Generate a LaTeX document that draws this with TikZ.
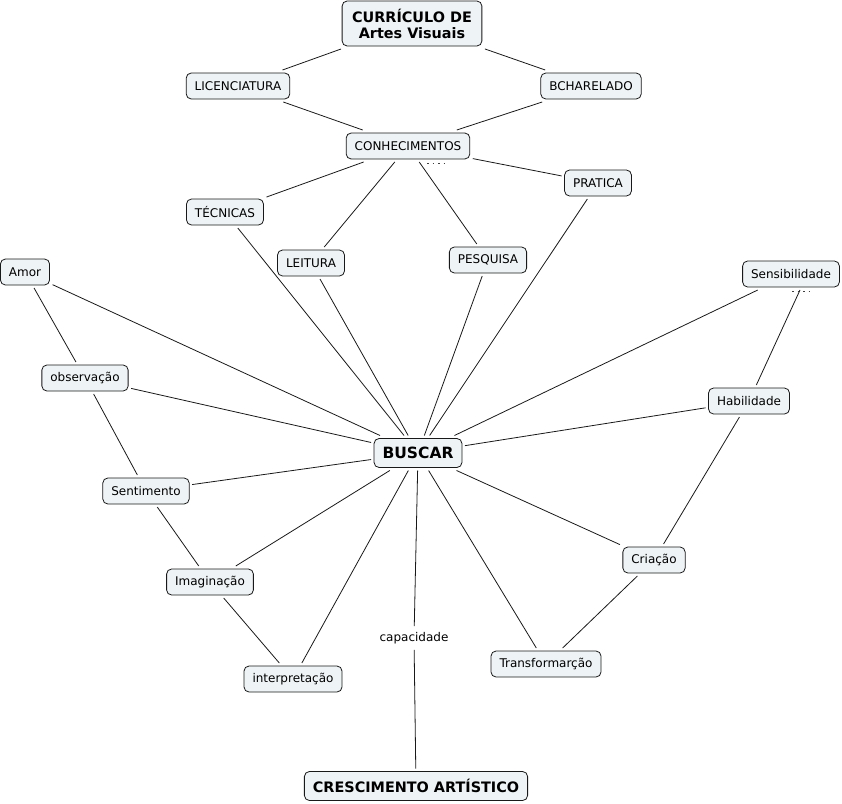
\documentclass[tikz,border=0pt]{standalone}
\usepackage{fontspec}
\setmainfont{DejaVu Sans}
\usetikzlibrary{positioning,shapes}
\definecolor{fundo}{RGB}{238,243,245}

\begin{document}
\begin{tikzpicture}[x=1pt,y=-1pt,
    conceito/.style={draw=black!90,fill=fundo,rounded corners=5pt,line width=0.8pt,
      minimum height=26pt,inner xsep=8.5pt,font=\fontsize{12}{14}\selectfont,outer sep=3pt},
    titulo/.style={conceito,font=\fontsize{14.4}{16}\selectfont\bfseries,minimum height=29pt},
    ligacao/.style={line width=0.8pt,black!90},
    marca/.style={line width=1pt,black!75,dash pattern=on 1.5pt off 4pt}]
            \useasboundingbox (0,0) rectangle (842,803);

            \node[titulo,align=center,minimum height=45pt,inner xsep=10pt] (curriculo) at (412,23.5) {CURRÍCULO DE\\Artes Visuais};
            \node[conceito] (licen) at (238,86) {LICENCIATURA};
            \node[conceito] (bachar) at (591,86) {BCHARELADO};
            \node[conceito] (conhec) at (408,146) {CONHECIMENTOS};
            \node[conceito] (tecnicas) at (225,212) {TÉCNICAS};
            \node[conceito] (leitura) at (311,263) {LEITURA};
            \node[conceito] (pesquisa) at (488,260) {PESQUISA};
            \node[conceito] (pratica) at (598,183) {PRATICA};

            \node[conceito] (amor) at (25,272) {Amor};
            \node[conceito] (observ) at (85,378) {observação};
            \node[conceito] (sentim) at (146,491) {Sentimento};
            \node[conceito] (imagin) at (210,582) {Imaginação};
            \node[conceito] (interp) at (293,679) {interpretação};

            \node[conceito] (sensib) at (791,274) {Sensibilidade};
            \node[conceito] (habil) at (749,401) {Habilidade};
            \node[conceito] (criacao) at (654,560) {Criação};
            \node[conceito] (transf) at (546,664) {Transformarção};

            \node[titulo,font=\fontsize{15.5}{17}\selectfont\bfseries] (buscar) at (418,453) {BUSCAR};
            \node[font=\fontsize{12}{14}\selectfont,inner sep=2pt,outer sep=4pt] (capac) at (414,638) {capacidade};
            \node[titulo] (cresc) at (416,786) {CRESCIMENTO ARTÍSTICO};

            % marcas sob os conceitos
            \draw[marca] ([xshift=19pt,yshift=-1pt]conhec.south) -- ([xshift=40pt,yshift=-1pt]conhec.south);
            \draw[marca] ([xshift=1pt,yshift=-1pt]sensib.south) -- ([xshift=22pt,yshift=-1pt]sensib.south);

            \draw[ligacao] (curriculo) -- (licen) -- (conhec);
            \draw[ligacao] (curriculo) -- (bachar) -- (conhec);
            \foreach \n in {tecnicas,leitura,pesquisa,pratica}
              \draw[ligacao] (conhec) -- (\n) -- (buscar);

            \draw[ligacao] (amor) -- (observ) -- (sentim) -- (imagin) -- (interp);
            \foreach \n in {amor,observ,sentim,imagin,interp}
              \draw[ligacao] (\n) -- (buscar);

            \draw[ligacao] ([xshift=9pt]sensib.south) -- (habil);
            \draw[ligacao] (habil) -- (criacao) -- (transf);
            \foreach \n in {sensib,habil,criacao,transf}
              \draw[ligacao] (\n) -- (buscar);

            \draw[ligacao] (buscar) -- (capac) -- (cresc);
\end{tikzpicture}
\end{document}
